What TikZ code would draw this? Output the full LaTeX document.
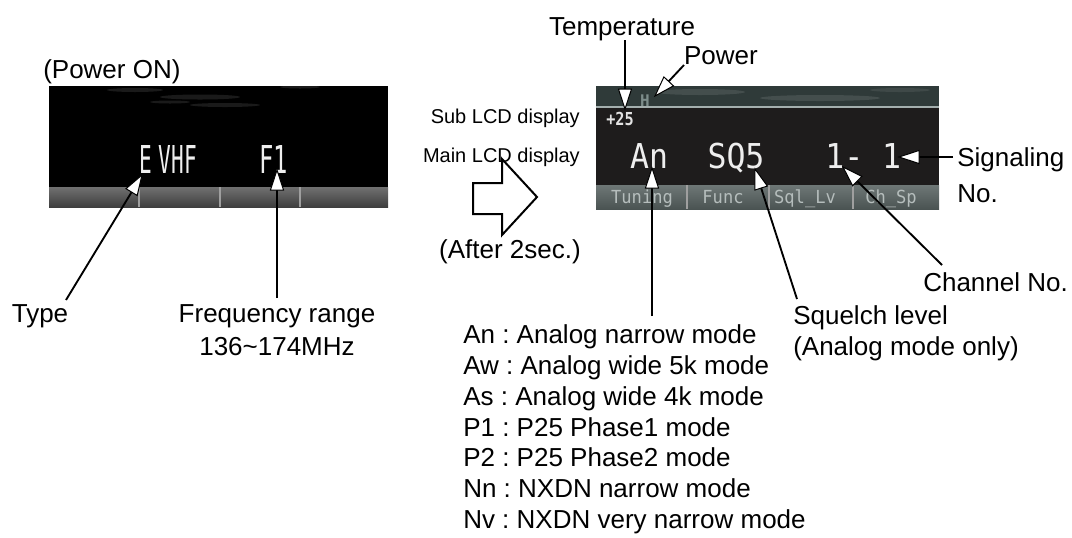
\documentclass[tikz,border=0pt]{standalone}
\usepackage{fontspec}
\setmainfont{Liberation Sans}
\newfontfamily\lcdfont{DejaVu Sans Mono}
\usetikzlibrary{calc}
\definecolor{lcdw}{HTML}{EEEEEE}
\definecolor{lcdtop}{HTML}{2F3A39}
\definecolor{lcdmain}{HTML}{1E1C1C}
\definecolor{barlt}{HTML}{707070}
\definecolor{bardk}{HTML}{3E3E3E}
\definecolor{rbarlt}{HTML}{6E7776}
\definecolor{rbardk}{HTML}{4A5352}
\definecolor{bartxt}{HTML}{B5BDBC}
\definecolor{hgray}{HTML}{7D8D8B}
\newcommand\condtxt[2]{\scalebox{#1}[1]{#2}}
% connector from #1 to #2 with an open (white-filled) triangular head
\newcommand\hollowarrow[2]{%
  \coordinate (hb) at ($(#2)!15pt!(#1)$);
  \draw[shaft] (#1) -- (hb);
  \draw[headtip] (#2) -- ($(hb)!4.9pt!90:(#1)$) -- ($(hb)!4.9pt!-90:(#1)$) -- cycle;}
\frenchspacing
\begin{document}
\begin{tikzpicture}[x=0.75pt,y=-0.75pt,
  lbl/.style={font=\fontsize{19.5pt}{23pt}\selectfont, inner sep=0pt},
  slbl/.style={font=\fontsize{15pt}{18pt}\selectfont, inner sep=0pt},
  shaft/.style={line width=1.4pt},
  headtip/.style={line width=0.75pt, fill=white, line join=miter},
  lcdbig/.style={font=\lcdfont\fontsize{28.8pt}{30pt}\selectfont, inner sep=0pt, text=lcdw},
  lcdmid/.style={font=\lcdfont\fontsize{25.7pt}{27pt}\selectfont, inner sep=0pt, text=lcdw},
  bartext/.style={font=\lcdfont\fontsize{13.5pt}{15pt}\selectfont, inner sep=0pt, text=bartxt},
  streak/.style={fill=white, opacity=0.10},
  divider/.style={draw=gray!75, line width=0.8pt}]
\useasboundingbox (0,0) rectangle (1072,537);

% ---------- left LCD (Power ON) ----------
\fill[black] (49,86) rectangle (388,207);
\fill[streak] (135,90) ellipse (28 and 2);
\fill[streak] (200,97) ellipse (40 and 2.5);
\fill[streak] (225,105) ellipse (35 and 2);
\fill[streak] (300,87) ellipse (20 and 1.5);
\fill[streak] (170,102) ellipse (20 and 1.5);
\shade[top color=barlt, bottom color=bardk] (49,187) rectangle (388,207);
\draw[divider] (139,187) -- (139,207);
\draw[divider] (220,187) -- (220,207);
\draw[divider] (300,187) -- (300,207);
\node[lcdbig, anchor=base] (lE) at (146,173) {\condtxt{0.55}{E}};
\node[lcdbig, anchor=base] (lVHF) at (178,173) {\condtxt{0.55}{VHF}};
\node[lcdbig, anchor=base] (lF1) at (273.5,173) {\condtxt{0.62}{F1}};

% ---------- right LCD ----------
\fill[lcdtop] (596,86) rectangle (939,107);
\fill[streak, opacity=0.10] (700,92) ellipse (45 and 3);
\fill[streak, opacity=0.10] (820,98) ellipse (60 and 3);
\fill[streak, opacity=0.08] (900,90) ellipse (30 and 2);
\fill[lcdmain] (596,107) rectangle (939,185);
\draw[hgray!70, line width=0.8pt] (596,107) -- (939,107);
\shade[top color=rbarlt, bottom color=rbardk] (596,185) rectangle (939,209);
\draw[divider] (687,185) -- (687,209);
\draw[divider] (769,185) -- (769,209);
\draw[divider] (853,185) -- (853,209);
\node[font=\lcdfont\bfseries\fontsize{12pt}{13pt}\selectfont, text=hgray, inner sep=0pt, anchor=base] (rH) at (645,106) {H};
\node[font=\lcdfont\bfseries\fontsize{13.4pt}{14pt}\selectfont, text=lcdw!90!gray, inner sep=0pt, anchor=base west] (rTemp) at (606,125) {\condtxt{0.85}{+25}};
\node[lcdmid, anchor=base] (rAn) at (649,168) {\condtxt{0.92}{An}};
\node[lcdmid, anchor=base] (rSQ) at (736,168) {\condtxt{0.92}{SQ5}};
\node[lcdmid, anchor=base west] (rCh) at (825,168) {\condtxt{0.92}{1- 1}};
\node[bartext, anchor=base] (bT) at (642,203) {\condtxt{0.95}{Tuning}};
\node[bartext, anchor=base] (bF) at (723,203) {\condtxt{0.95}{Func}};
\node[bartext, anchor=base] (bS) at (805,203) {\condtxt{0.95}{Sql\_Lv}};
\node[bartext, anchor=base] (bC) at (891,203) {\condtxt{0.95}{Ch\_Sp}};

% ---------- labels ----------
\node[lbl, anchor=base west] (powon) at (43,78) {(Power ON)};
\node[lbl, anchor=base] (type) at (40,322) {Type};
\node[lbl, anchor=base] (freq1) at (277,322) {Frequency range};
\node[lbl, anchor=base] (freq2) at (277,355) {136\textasciitilde 174MHz};
\node[slbl, anchor=base east] (sublcd) at (580,123) {Sub LCD display};
\node[slbl, anchor=base east] (mainlcd) at (580,162) {Main LCD display};
\node[lbl, anchor=base] (after) at (510,258) {(After 2sec.)};
\node[lbl, anchor=base] (temp) at (622,35) {Temperature};
\node[lbl, anchor=base] (power) at (721,64) {Power};
\node[lbl, anchor=base west] (sig1) at (957,166) {Signaling};
\node[lbl, anchor=base west] (sig2) at (957,202) {No.};
\node[lbl, anchor=base west] (chan) at (923,291) {Channel No.};
\node[lbl, anchor=base west] (sq1) at (793,324) {Squelch level};
\node[lbl, anchor=base west] (sq2) at (793,355) {(Analog mode only)};
\node[lbl, anchor=base west] (mode0) at (463,343.6) {An : Analog narrow mode};
\node[lbl, anchor=base west] (mode1) at (463,374.4) {Aw : Analog wide 5k mode};
\node[lbl, anchor=base west] (mode2) at (463,405.2) {As : Analog wide 4k mode};
\node[lbl, anchor=base west] (mode3) at (463,436.0) {P1 : P25 Phase1 mode};
\node[lbl, anchor=base west] (mode4) at (463,466.8) {P2 : P25 Phase2 mode};
\node[lbl, anchor=base west] (mode5) at (463,497.6) {Nn : NXDN narrow mode};
\node[lbl, anchor=base west] (mode6) at (463,528.4) {Nv : NXDN very narrow mode};

% ---------- hollow arrow ----------
\draw[line width=1.5pt, fill=white, line join=miter]
  (473,183) -- (502,183) -- (502,159) -- (537,197) -- (502,235) -- (502,214) -- (473,214) -- cycle;

% ---------- connector end points ----------
\coordinate (typeS) at (66,300);
\coordinate (typeT) at (142,175);
\coordinate (freqS) at (277,298);
\coordinate (freqT) at (277,170);
\coordinate (tempS) at (625,40);
\coordinate (tempT) at (625,109);
\coordinate (powS) at (684,65);
\coordinate (powT) at (655,96);
\coordinate (sigS) at (953,157);
\coordinate (sigT) at (899,157);
\coordinate (chS) at (942,265);
\coordinate (chT) at (843,167);
\coordinate (sqS) at (797,299);
\coordinate (sqT) at (755,169);
\coordinate (anS) at (652,316);
\coordinate (anT) at (652,168);

\hollowarrow{typeS}{typeT}
\hollowarrow{freqS}{freqT}
\hollowarrow{tempS}{tempT}
\hollowarrow{powS}{powT}
\hollowarrow{sigS}{sigT}
\hollowarrow{chS}{chT}
\hollowarrow{sqS}{sqT}
\hollowarrow{anS}{anT}
\end{tikzpicture}
\end{document}
